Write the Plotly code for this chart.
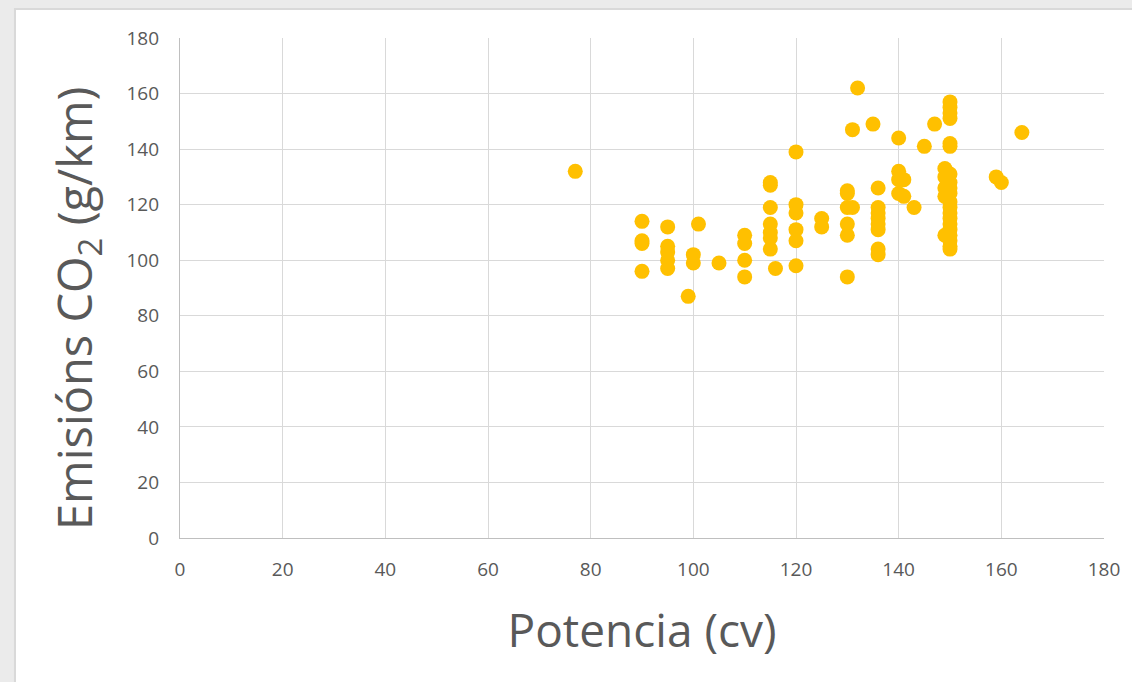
import plotly.graph_objects as go

potencia = [77,
            90, 90, 90, 90,
            95, 95, 95, 95, 95,
            99, 100, 100, 101, 105,
            110, 110, 110, 110,
            115, 115, 115, 115, 115, 115, 115, 116,
            120, 120, 120, 120, 120, 120,
            125, 125,
            130, 130, 130, 130, 130, 130, 131, 131, 132, 135,
            136, 136, 136, 136, 136, 136, 136, 136,
            140, 140, 140, 140, 141, 141, 143, 145, 147,
            149, 149, 149, 149, 149,
            150, 150, 150, 150, 150, 150, 150, 150, 150, 150,
            150, 150, 150, 150, 150, 150, 150, 150, 150, 150,
            159, 160, 164]
emisions = [132,
            114, 107, 106, 96,
            112, 105, 103, 100, 97,
            87, 102, 99, 113, 99,
            109, 106, 100, 94,
            128, 127, 119, 113, 110, 108, 104, 97,
            139, 120, 117, 111, 107, 98,
            115, 112,
            125, 124, 119, 113, 109, 94, 147, 119, 162, 149,
            126, 119, 117, 115, 113, 111, 104, 102,
            144, 132, 129, 124, 129, 123, 119, 141, 149,
            133, 130, 126, 123, 109,
            157, 155, 153, 151, 142, 141, 131, 128, 126, 124,
            121, 119, 117, 115, 113, 111, 109, 107, 105, 104,
            130, 128, 146]

tick_vals = [0, 20, 40, 60, 80, 100, 120, 140, 160, 180]
x_title = "Potencia (cv)"
y_title = "Emisións CO<sub>2</sub> (g/km)"

fig = go.Figure()
fig.add_trace(go.Scatter(
    x=potencia, y=emisions, mode="markers",
    marker=dict(color="#FFC000", size=15, line=dict(width=0)),
    showlegend=False,
))

font_family = "Open Sans, DejaVu Sans, sans-serif"
axis_common = dict(
    range=[0, 180], tickvals=tick_vals, showgrid=True, gridcolor="#d9d9d9",
    gridwidth=1.3, zeroline=False, showline=True, linecolor="#bfbfbf", linewidth=1.3,
    tickfont=dict(family=font_family, size=19, color="#595959"),
    ticks="", fixedrange=True,
)

fig.update_layout(
    width=1132, height=682,
    margin=dict(l=180, r=28, t=38, b=144),
    paper_bgcolor="#ebebeb", plot_bgcolor="#ffffff",
    xaxis=dict(**axis_common, ticklabelstandoff=14,
               title=dict(text=x_title, standoff=33,
                          font=dict(family=font_family, size=46, color="#595959"))),
    yaxis=dict(**axis_common, ticklabelstandoff=16),
    annotations=[dict(text=y_title, textangle=-90, xref="paper", yref="paper",
                      x=(77 - 180) / 924, y=(538 - 309) / 500,
                      xanchor="center", yanchor="middle", showarrow=False,
                      font=dict(family=font_family, size=47, color="#595959"))],
    shapes=[dict(type="rect", xref="paper", yref="paper",
                 x0=-0.1786, x1=1.2, y0=-0.5, y1=1.058,
                 fillcolor="#ffffff", line=dict(color="#d9d9d9", width=2),
                 layer="below")],
)

fig.write_html("out.html")
